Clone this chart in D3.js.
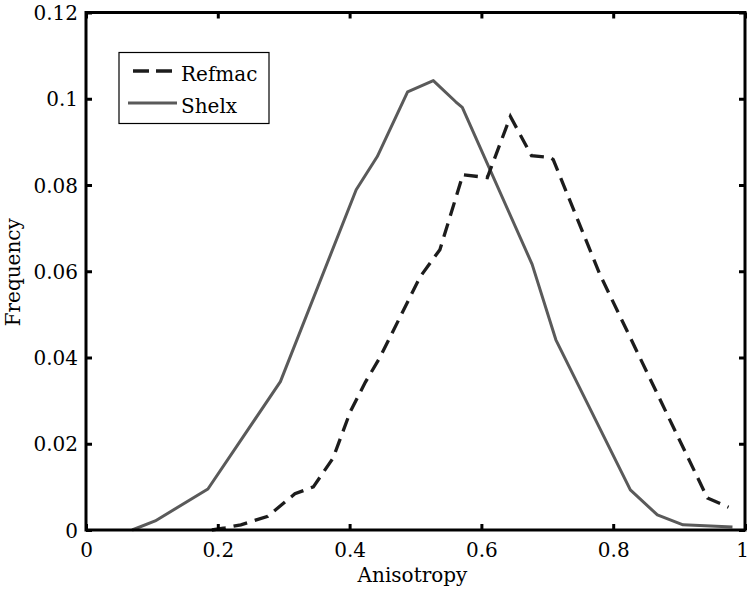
<!DOCTYPE html>
<html>
<head>
<meta charset="utf-8">
<script src="https://cdn.jsdelivr.net/npm/d3@7"></script>
<style>
  html, body { margin: 0; padding: 0; background: #fff; }
  svg text { font-family: "DejaVu Serif", "Liberation Serif", serif; fill: #000; }
</style>
</head>
<body>
<svg id="chart" width="750" height="593"></svg>
<script>
// ---- data ----
const refmacX = [0.191, 0.211, 0.235, 0.276, 0.317, 0.345, 0.375, 0.401, 0.424, 0.446, 0.507, 0.537, 0.572, 0.609, 0.644, 0.676, 0.704, 0.709, 0.780, 0.943, 0.975];
const refmacY = [0.0000, 0.0005, 0.0012, 0.0032, 0.0084, 0.0100, 0.0167, 0.0274, 0.0343, 0.0400, 0.0587, 0.0650, 0.0824, 0.0817, 0.0959, 0.0868, 0.0864, 0.0859, 0.0592, 0.0074, 0.0053];
const shelxX = [0.070, 0.105, 0.185, 0.295, 0.410, 0.442, 0.488, 0.527, 0.561, 0.571, 0.677, 0.713, 0.826, 0.867, 0.906, 0.981];
const shelxY = [0.0000, 0.0021, 0.0095, 0.0344, 0.0789, 0.0866, 0.1016, 0.1042, 0.0993, 0.0980, 0.0616, 0.0441, 0.0093, 0.0035, 0.0012, 0.0007];
const xTicks = [0, 0.2, 0.4, 0.6, 0.8, 1];
const yTicks = [0, 0.02, 0.04, 0.06, 0.08, 0.1, 0.12];
const seriesNames = ["Refmac", "Shelx"];

// ---- layout ----
const svg = d3.select("#chart");
const L = 86, R = 745, T = 12.5, B = 530;
const x = d3.scaleLinear().domain([0, 1]).range([L, R]);
const y = d3.scaleLinear().domain([0, 0.12]).range([B, T]);

const fmt = d => d === 0 ? "0" : d === 1 ? "1" : String(+d.toFixed(2));

// curves
const line = d3.line().x(d => x(d[0])).y(d => y(d[1]));
const shelx = shelxX.map((v, i) => [v, shelxY[i]]);
const refmac = refmacX.map((v, i) => [v, refmacY[i]]);

svg.append("path").datum(shelx).attr("d", line)
  .attr("fill", "none").attr("stroke", "#5a5a5a").attr("stroke-width", 3)
  .attr("stroke-linejoin", "round");
svg.append("path").datum(refmac).attr("d", line)
  .attr("fill", "none").attr("stroke", "#1c1c1c").attr("stroke-width", 3.3)
  .attr("stroke-dasharray", "14,8");

// axes with inward ticks
const tickLen = 6;
const gB = svg.append("g").attr("transform", `translate(0,${B})`)
  .call(d3.axisBottom(x).tickValues(xTicks).tickSize(-tickLen).tickPadding(12).tickFormat(fmt));
const gT = svg.append("g").attr("transform", `translate(0,${T})`)
  .call(d3.axisTop(x).tickValues(xTicks).tickSize(-tickLen).tickFormat(""));
const gL = svg.append("g").attr("transform", `translate(${L},0)`)
  .call(d3.axisLeft(y).tickValues(yTicks).tickSize(-tickLen).tickPadding(8).tickFormat(fmt));
const gR = svg.append("g").attr("transform", `translate(${R},0)`)
  .call(d3.axisRight(y).tickValues(yTicks).tickSize(-tickLen).tickFormat(""));

[gB, gT, gL, gR].forEach(g => {
  g.select(".domain").remove();
  g.selectAll(".tick line").attr("stroke", "#000").attr("stroke-width", 3);
  g.selectAll(".tick text").attr("font-size", 20).attr("font-family", "DejaVu Serif, serif").attr("fill", "#000");
});
gB.selectAll(".tick text").attr("dy", null).attr("y", 27)
  .attr("dx", d => d === 1 ? -3 : 0);
gL.selectAll(".tick text").attr("dy", "0.36em");

// frame
svg.append("rect").attr("x", L).attr("y", T).attr("width", R - L).attr("height", B - T)
  .attr("fill", "none").attr("stroke", "#000").attr("stroke-width", 3);

// axis titles
svg.append("text").attr("x", (L + R) / 2 - 3).attr("y", 582)
  .attr("text-anchor", "middle").attr("font-size", 20).text("Anisotropy");
svg.append("text").attr("transform", `translate(20,${(T + B) / 2 + 1}) rotate(-90)`)
  .attr("text-anchor", "middle").attr("font-size", 20).text("Frequency");

// legend
const lg = svg.append("g");
lg.append("rect").attr("x", 119).attr("y", 52.5).attr("width", 150).attr("height", 71)
  .attr("fill", "#fff").attr("stroke", "#000").attr("stroke-width", 1.2);
lg.append("line").attr("x1", 133).attr("x2", 172).attr("y1", 71).attr("y2", 71)
  .attr("stroke", "#1c1c1c").attr("stroke-width", 3.3).attr("stroke-dasharray", "16,7");
lg.append("line").attr("x1", 128).attr("x2", 177).attr("y1", 103).attr("y2", 103)
  .attr("stroke", "#5a5a5a").attr("stroke-width", 3);
lg.append("text").attr("x", 181).attr("y", 81).attr("font-size", 20).text(seriesNames[0]);
lg.append("text").attr("x", 181).attr("y", 113).attr("font-size", 20).text(seriesNames[1]);
</script>
</body>
</html>
